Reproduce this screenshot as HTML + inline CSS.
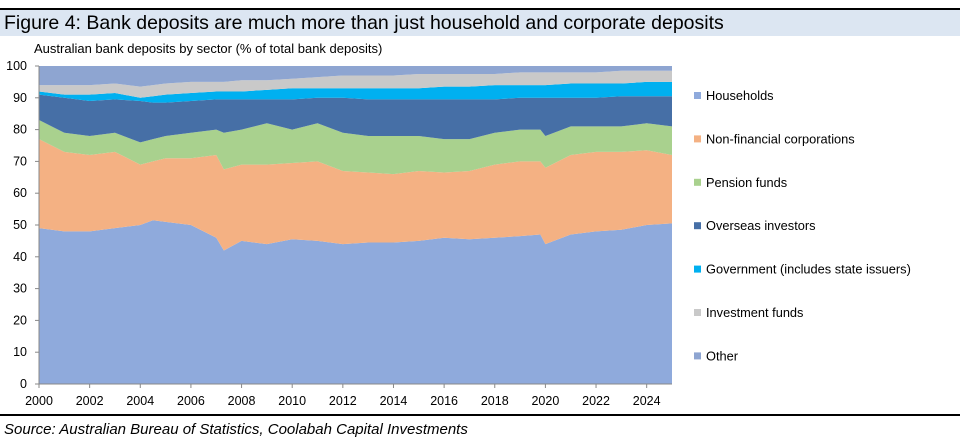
<!DOCTYPE html>
<html><head><meta charset="utf-8"><style>
body{margin:0;background:#fff;width:960px;height:440px;overflow:hidden;font-family:"Liberation Sans",sans-serif;position:relative}
.topline{position:absolute;left:0;top:8px;width:960px;height:2px;background:#000}
.title{position:absolute;left:0;top:10px;width:960px;height:26px;background:#dce6f2;font-size:19.5px;line-height:26px;padding-left:4px;box-sizing:border-box;color:#000}
.botline{position:absolute;left:0;top:414px;width:960px;height:2px;background:#000}
.source{position:absolute;left:4px;top:421px;font-size:15px;font-style:italic}
</style></head><body>
<div class="topline"></div>
<div class="title">Figure 4: Bank deposits are much more than just household and corporate deposits</div>
<svg id="chart" width="960" height="440" style="position:absolute;left:0;top:0"></svg>
<div class="botline"></div>
<div class="source">Source: Australian Bureau of Statistics, Coolabah Capital Investments</div>
<script>
const dates=[2000,2001,2002,2003,2004,2004.5,2005,2006,2007,2007.3,2008,2009,2010,2011,2012,2013,2014,2015,2016,2017,2018,2019,2019.8,2020,2021,2022,2023,2024,2025];
const households=[49,48,48,49,50,51.5,51,50,46,42,45,44,45.5,45,44,44.5,44.5,45,46,45.5,46,46.5,47,44,47,48,48.5,50,50.5];
const nonFinancial=[28,25,24,24,19,18.5,20,21,26,25.5,24,25,24,25,23,22,21.5,22,20.5,21.5,23,23.5,23,24,25,25,24.5,23.5,21.5];
const pension=[6,6,6,6,7,7,7,8,8,11.5,11,13,10.5,12,12,11.5,12,11,10.5,10,10,10,10,10,9,8,8,8.5,9];
const overseas=[8,11,11,10.5,13,11.5,10.5,10,9.5,10.5,9.5,7.5,9.5,8,11,11.5,11.5,11.5,12.5,12.5,10.5,10,10,12,9,9,9.5,8.5,9.5];
const government=[1,1,2,2,1,2,2.5,2.5,2.5,2.5,2.5,3,3.5,3,3,3.5,3.5,3.5,4,4,4.5,4,4,4,4.5,4.5,4,4.5,4.5];
const investment=[2,3,3,3,3.5,3.5,3.5,3.5,3,3,3.5,3,3,3.5,4,4,4,4.5,4,4,3.5,4,4,4,3.5,3.5,4,3.5,3.5];
const other=[6,6,6,5.5,6.5,6,5.5,5,5,5,4.5,4.5,4,3.5,3,3,3,2.5,2.5,2.5,2.5,2,2,2,2,2,1.5,1.5,1.5];
const seriesNames=["Households","Non-financial corporations","Pension funds","Overseas investors","Government (includes state issuers)","Investment funds","Other"];
const seriesColors=["#8faadc","#f4b183","#a9d18e","#466fa6","#00b0f0","#c9c9c9","#8ea5d1"];
const yTicks=[0,10,20,30,40,50,60,70,80,90,100];
const xTicks=[2000,2002,2004,2006,2008,2010,2012,2014,2016,2018,2020,2022,2024];
const series=[households,nonFinancial,pension,overseas,government,investment,other];
const NS="http://www.w3.org/2000/svg";
const svg=document.getElementById('chart');
const L=39,R=672,T=66,B=384;
const x=d=>L+(d-2000)/(2025-2000)*(R-L);
const y=v=>B-v/100*(B-T);
function mk(t,a){const e=document.createElementNS(NS,t);for(const k in a)e.setAttribute(k,a[k]);svg.appendChild(e);return e;}
let base=dates.map(()=>0);
series.forEach((s,i)=>{
  const top=base.map((b,j)=>b+s[j]);
  let d="M"+dates.map((dt,j)=>x(dt)+","+y(top[j])).join("L");
  for(let j=dates.length-1;j>=0;j--)d+="L"+x(dates[j])+","+y(base[j]);
  const p=mk('path',{d:d+"Z",fill:seriesColors[i]});
  
  
  base=top;
});
const ax=mk('line',{x1:L,y1:T,x2:L,y2:B,stroke:'#888','stroke-width':1});


const ax2=mk('line',{x1:L,y1:B,x2:R,y2:B,stroke:'#888','stroke-width':1});


yTicks.forEach(v=>{
  const tk=mk('line',{x1:L-4,y1:y(v),x2:L,y2:y(v),stroke:'#888'});
  
  
  const t=mk('text',{x:L-12,y:y(v)+4,'text-anchor':'end','font-size':12.5,'font-family':'Liberation Sans, sans-serif'});
  t.textContent=v;
  
  
});
xTicks.forEach(v=>{
  const tk=mk('line',{x1:x(v),y1:B,x2:x(v),y2:B+4,stroke:'#888'});
  
  
  const t=mk('text',{x:x(v),y:B+21,'text-anchor':'middle','font-size':12.5,'font-family':'Liberation Sans, sans-serif'});
  t.textContent=v;
  
  
});
const st=mk('text',{x:34,y:53,'font-size':13,'font-family':'Liberation Sans, sans-serif'});
st.textContent="Australian bank deposits by sector (% of total bank deposits)";


seriesNames.forEach((n,i)=>{
  const yy=96+i*43.4;
  const r=mk('rect',{x:694,y:yy-4,width:7,height:7,fill:seriesColors[i]});
  
  
  const t=mk('text',{x:706,y:yy+4,'font-size':12.8,'font-family':'Liberation Sans, sans-serif'});
  t.textContent=n;
  
  
});
</script>
</body></html>
